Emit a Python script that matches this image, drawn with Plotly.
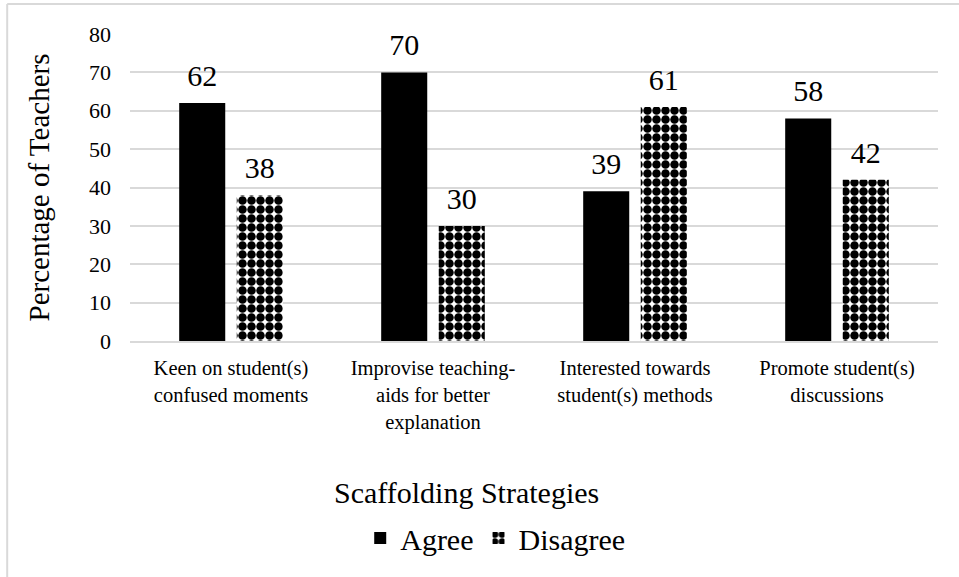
import plotly.graph_objects as go

categories = [
    "Keen on student(s)<br>confused moments",
    "Improvise teaching-<br>aids for better<br>explanation",
    "Interested towards<br>student(s) methods",
    "Promote student(s)<br>discussions",
]
agree = [62, 70, 39, 58]
disagree = [38, 30, 61, 42]
y_ticks = [0, 10, 20, 30, 40, 50, 60, 70, 80]

FONT = "Liberation Serif"
GRID = "#d9d9d9"

fig = go.Figure()
fig.add_trace(go.Bar(
    name="Agree", x=categories, y=agree, offsetgroup="a",
    marker=dict(color="black", line=dict(width=0)),
))
fig.add_trace(go.Bar(
    name="Disagree", x=categories, y=disagree, offsetgroup="d",
    marker=dict(color="white", line=dict(width=0),
                pattern=dict(shape=".", fgcolor="black", bgcolor="white",
                             size=9, solidity=0.7, fillmode="replace")),
))
# value labels above each bar
for name, vals in (("a", agree), ("d", disagree)):
    fig.add_trace(go.Scatter(
        x=categories, y=vals, offsetgroup=name, mode="markers+text",
        text=[str(v) for v in vals], textposition="top center",
        textfont=dict(family=FONT, size=30, color="black"),
        marker=dict(size=14, opacity=0), showlegend=False, hoverinfo="skip",
        cliponaxis=False,
    ))

fig.update_layout(
    width=959, height=577,
    margin=dict(l=130, r=21, t=34, b=236),
    plot_bgcolor="white", paper_bgcolor="white",
    barmode="group", bargap=0.43, bargroupgap=0.2,
    scattermode="group", scattergap=0.43,
    font=dict(family=FONT, color="black"),
    legend=dict(orientation="h", x=0.452, xanchor="center", y=-0.642, yanchor="middle",
                font=dict(family=FONT, size=30), itemwidth=30, traceorder="normal"),
    xaxis=dict(
        tickfont=dict(family=FONT, size=20.5), showgrid=False, showline=True, linecolor=GRID,
        linewidth=1.5, ticks="", ticklabelstandoff=8, automargin=False,
    ),
    yaxis=dict(
        range=[0, 80], tickvals=y_ticks, tickfont=dict(family=FONT, size=22),
        showgrid=True, gridcolor=GRID, gridwidth=1.5, zeroline=False,
        ticklabelstandoff=18, showline=False,
        title=dict(text="Percentage of Teachers", font=dict(family=FONT, size=29), standoff=30),
        automargin=False,
    ),
    annotations=[
        dict(text="Scaffolding Strategies", xref="paper", yref="paper", x=0.417, y=-0.492,
             xanchor="center", yanchor="middle", showarrow=False,
             font=dict(family=FONT, size=30, color="black")),
    ],
    shapes=[
        dict(type="line", xref="paper", yref="paper", x0=-0.152, x1=1.03, y0=1.098, y1=1.098,
             line=dict(color=GRID, width=2)),
        dict(type="line", xref="paper", yref="paper", x0=-0.152, x1=-0.152, y0=1.098, y1=-0.77,
             line=dict(color=GRID, width=2)),
    ],
)

fig.write_html("out.html")
